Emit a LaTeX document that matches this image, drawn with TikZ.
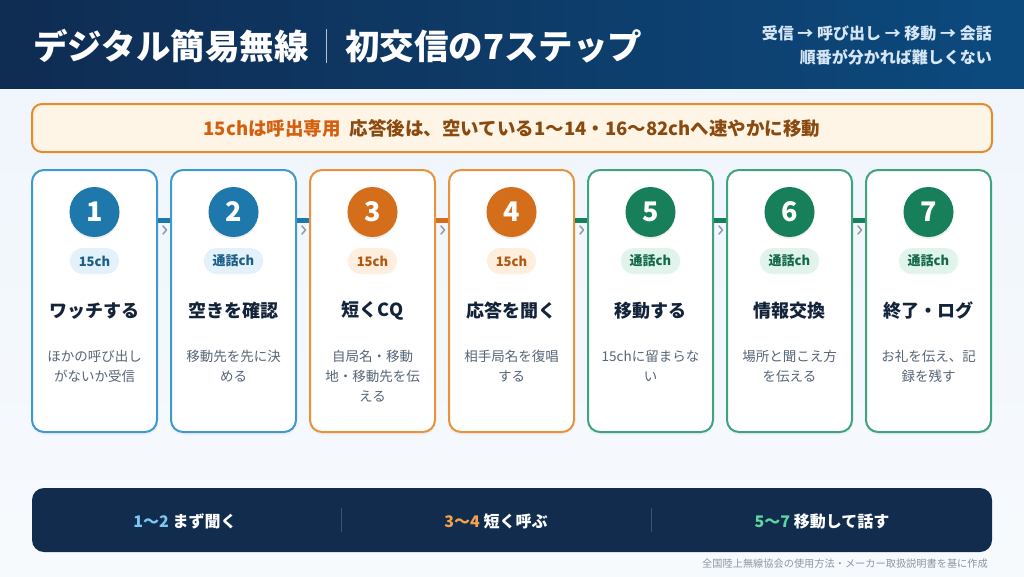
\documentclass[tikz,border=0pt]{standalone}
\usepackage{fontspec}
\setmainfont{Noto Sans CJK JP}
\usetikzlibrary{calc,shadows}
\definecolor{hdrL}{HTML}{0F2C52}
\definecolor{hdrR}{HTML}{0C4A7E}
\definecolor{hdrSub}{HTML}{D6E6F6}
\definecolor{bgT}{HTML}{EEF5FC}
\definecolor{bgB}{HTML}{F7FAFD}
\definecolor{banF}{HTML}{FFF5E6}
\definecolor{banD}{HTML}{E8892A}
\definecolor{banA}{HTML}{D35F0F}
\definecolor{banT}{HTML}{8A4A0F}
\definecolor{blueB}{HTML}{3E9ACD}
\definecolor{blueC}{HTML}{1F78AB}
\definecolor{blueP}{HTML}{E2F1FA}
\definecolor{blueT}{HTML}{1B5E88}
\definecolor{orgB}{HTML}{E9923C}
\definecolor{orgC}{HTML}{D56E1A}
\definecolor{orgP}{HTML}{FDEEDE}
\definecolor{orgT}{HTML}{B0560F}
\definecolor{grnB}{HTML}{3EA47C}
\definecolor{grnC}{HTML}{177F5A}
\definecolor{grnP}{HTML}{E1F4EB}
\definecolor{grnT}{HTML}{13694A}
\definecolor{ink}{HTML}{12233A}
\definecolor{descc}{HTML}{566577}
\definecolor{chevc}{HTML}{8D9BB0}
\definecolor{navy}{HTML}{112C4D}
\definecolor{divc}{HTML}{3D5575}
\definecolor{sumB}{HTML}{7CC7F2}
\definecolor{sumO}{HTML}{F3A24A}
\definecolor{sumG}{HTML}{5FD6A0}
\definecolor{notec}{HTML}{8A96A5}
\tikzset{
  card/.style={draw, line width=2pt, fill=white, rounded corners=12pt,
    minimum width=125pt, minimum height=262pt,
    drop shadow={opacity=0.06, shadow xshift=0pt, shadow yshift=-3pt}},
  numc/.style={circle, minimum size=50pt, inner sep=0pt, text=white,
    font=\bfseries\fontsize{27}{27}\selectfont,
    drop shadow={opacity=0.12, shadow xshift=0pt, shadow yshift=-2pt}},
  pill/.style={rounded corners=13pt, minimum height=26pt, inner xsep=9pt, inner ysep=0pt,
    font=\bfseries\fontsize{13}{13}\selectfont},
  ttl/.style={font=\bfseries\fontsize{18}{18}\selectfont, text=ink, inner sep=0pt},
  desc/.style={font=\fontsize{13.5}{20}\selectfont, text=descc, align=center, inner sep=0pt},
  bar/.style={line width=5pt},
  chev/.style={draw=chevc, line width=1.5pt, line cap=round, line join=round},
  sumtxt/.style={text=white, font=\bfseries\fontsize{16}{16}\selectfont},
  hdrtitle/.style={anchor=west, text=white, font=\bfseries\fontsize{34.5}{34.5}\selectfont, inner sep=0pt},
}
\newcommand{\mkcard}[6]{%
  \node[card, draw=#3B] (card#1) at (#2,301) {};
  \node[numc, fill=#3C] (num#1) at (#2,212) {#1};
  \node[pill, fill=#3P, text=#3T] (tag#1) at (#2,261) {#4};
  \node[ttl] (ttl#1) at (#2,311) {#5};
  \node[desc, anchor=north] (desc#1) at (#2,350) {#6};
}
\begin{document}
\begin{tikzpicture}[x=1pt,y=-1pt]
\useasboundingbox (0,0) rectangle (1024,576);
% background
\shade[top color=bgT, bottom color=bgB] (0,0) rectangle (1024,576);
% header
\shade[left color=hdrL, right color=hdrR] (0,0) rectangle (1024,88);
\node[hdrtitle] (title1) at (33,46) {デジタル簡易無線};
\node[hdrtitle] (title2) at (345,46) {初交信の7ステップ};
\draw[white, opacity=0.7, line width=1.2pt] ($(title1.east)!0.5!(title2.west)+(0,-17)$) -- ++(0,34);
\node[anchor=east, text=hdrSub, font=\bfseries\fontsize{16}{16}\selectfont, inner sep=0pt] (sub1) at (992,33) {受信 → 呼び出し → 移動 → 会話};
\node[anchor=east, text=hdrSub, font=\bfseries\fontsize{16}{16}\selectfont, inner sep=0pt] (sub2) at (992,57) {順番が分かれば難しくない};
% banner
\node[draw=banD, fill=banF, line width=2pt, rounded corners=10pt, minimum width=960pt, minimum height=48pt] (banner) at (512,128) {};
\node[font=\bfseries\fontsize{18.5}{18.5}\selectfont] (bannertxt) at (banner) {\textcolor{banA}{15chは呼出専用}\hspace{9pt}\textcolor{banT}{応答後は、空いている1〜14・16〜82chへ速やかに移動}};
% cards
\mkcard{1}{94.5}{blue}{15ch}{ワッチする}{ほかの呼び出し\\がないか受信}
\mkcard{2}{233.5}{blue}{通話ch}{空きを確認}{移動先を先に決\\める}
\mkcard{3}{372.5}{org}{15ch}{短くCQ}{自局名・移動\\地・移動先を伝\\える}
\mkcard{4}{511.5}{org}{15ch}{応答を聞く}{相手局名を復唱\\する}
\mkcard{5}{650.5}{grn}{通話ch}{移動する}{15chに留まらな\\い}
\mkcard{6}{789.5}{grn}{通話ch}{情報交換}{場所と聞こえ方\\を伝える}
\mkcard{7}{928.5}{grn}{通話ch}{終了・ログ}{お礼を伝え、記\\録を残す}
% connector bars between cards
\path (num1) ++(0,8) coordinate (barY);
\draw[bar, blueC] (card1.east |- barY) -- (card2.west |- barY);
\draw[bar, blueC] (card2.east |- barY) -- (card3.west |- barY);
\draw[bar, orgC]  (card3.east |- barY) -- (card4.west |- barY);
\draw[bar, grnC]  (card4.east |- barY) -- (card5.west |- barY);
\draw[bar, grnC]  (card5.east |- barY) -- (card6.west |- barY);
\draw[bar, grnC]  (card6.east |- barY) -- (card7.west |- barY);
% chevrons
\foreach \i in {2,...,7}{
  \draw[chev] ($(card\i.west |- barY)+(-7,6)$) -- ++(3.5,4) -- ++(-3.5,4);
}
% summary bar
\node[fill=navy, rounded corners=12pt, minimum width=960pt, minimum height=64pt] (summary) at (512,520) {};
\draw[divc, line width=1pt] (341,508) -- (341,532);
\draw[divc, line width=1pt] (651,508) -- (651,532);
\node[sumtxt] (sum1) at (185,521) {\textcolor{sumB}{1〜2} まず聞く};
\node[sumtxt] (sum2) at (496,521) {\textcolor{sumO}{3〜4} 短く呼ぶ};
\node[sumtxt] (sum3) at (822,521) {\textcolor{sumG}{5〜7} 移動して話す};
% footnote
\node[anchor=east, text=notec, font=\fontsize{10.2}{10.2}\selectfont, inner sep=0pt] (note) at (988,564) {全国陸上無線協会の使用方法・メーカー取扱説明書を基に作成};
\end{tikzpicture}
\end{document}
